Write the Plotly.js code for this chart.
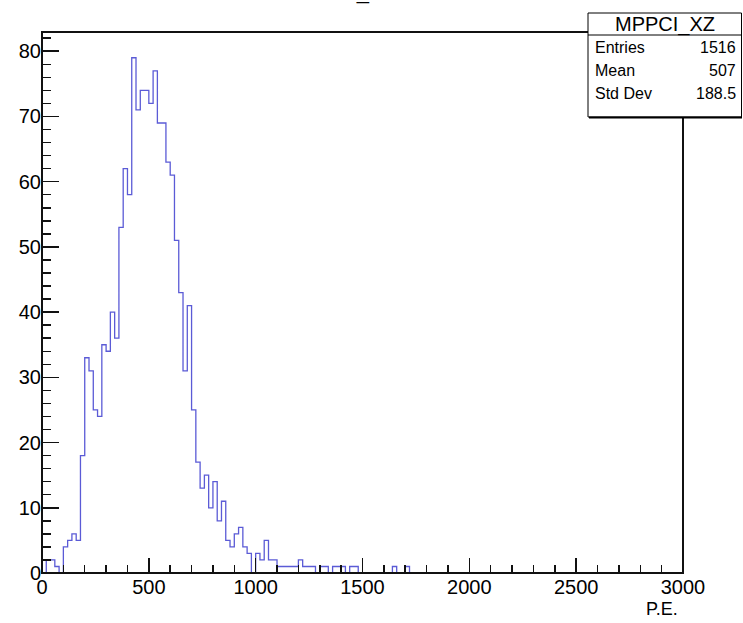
<!DOCTYPE html>
<html>
<head>
<meta charset="utf-8">
<script src="https://cdn.plot.ly/plotly-3.0.1.min.js"></script>
<style>
  html, body { margin: 0; padding: 0; background: #ffffff; }
  #chart { width: 743px; height: 623px; }
</style>
</head>
<body>
<div id="chart"></div>
<script>
// ---- data ----
const histName = "MPPCI_XZ";
const xAxisLabel = "P.E.";
const xMin = 0;
const xMax = 3000;
const binWidth = 20;
// counts per 20 P.E. bin, starting at 0
const counts = [
  0, 2, 2, 1, 0, 4, 5, 6, 5, 18,
  33, 31, 25, 24, 35, 34, 40, 36, 53, 62,
  58, 79, 71, 74, 74, 72, 77, 69, 69, 63,
  61, 51, 43, 31, 41, 25, 17, 13, 15, 10,
  14, 8, 11, 5, 4, 6, 7, 4, 3, 0,
  3, 2, 5, 2, 2, 1, 1, 1, 1, 1,
  2, 1, 1, 1, 0, 1, 1, 0, 1, 1,
  1, 0, 1, 1, 0, 0, 0, 0, 0, 0,
  0, 0, 1, 0, 0, 1, 0, 0, 0, 0,
  0, 0, 0, 0, 0, 0, 0, 0, 0, 0,
  0, 0, 0, 0, 0, 0, 0, 0, 0, 0,
  0, 0, 0, 0, 0, 0, 0, 0, 0, 0,
  0, 0, 0, 0, 0, 0, 0, 0, 0, 0,
  0, 0, 0, 0, 0, 0, 0, 0, 0, 0,
  0, 0, 0, 0, 0, 0, 0, 0, 0, 0
];
const statLabels = ["Entries", "Mean", "Std Dev"];
const statValues = ["1516", "507", "188.5"];
const yMax = 82.95;

// ---- build step outline from bin edges ----
const xs = [];
const ys = [];
for (let i = 0; i < counts.length; i++) {
  xs.push(xMin + i * binWidth);
  ys.push(counts[i]);
}
xs.push(xMin + counts.length * binWidth);
ys.push(counts[counts.length - 1]);

// ---- layout geometry (pixels) ----
const W = 743, H = 623;
const L = 42, R = 683, T = 32, B = 573;
const pw = R - L, ph = B - T;
const px = v => (v - L) / pw;
const py = v => (B - v) / ph;

const font = "Liberation Sans, Arial, Helvetica, sans-serif";

const trace = {
  type: "scatter",
  mode: "lines",
  x: xs,
  y: ys,
  line: { shape: "hv", color: "#5b5bd6", width: 1.3 },
  hoverinfo: "skip"
};

const annotations = [
  // partially cropped title at the very top
  { text: histName, xref: "paper", yref: "paper", x: px(285), y: py(6),
    xanchor: "left", yanchor: "bottom", showarrow: false,
    font: { family: font, size: 22, color: "#000" } },
  // stat box title
  { text: histName, xref: "paper", yref: "paper", x: px(665), y: py(24),
    xanchor: "center", yanchor: "middle", showarrow: false,
    font: { family: font, size: 20, color: "#000" } },
  // axis title
  { text: xAxisLabel, xref: "paper", yref: "paper", x: px(680), y: py(609),
    xanchor: "right", yanchor: "middle", showarrow: false,
    font: { family: font, size: 18, color: "#000" } }
];
const rowY = [47, 70, 93];
for (let i = 0; i < statLabels.length; i++) {
  annotations.push({ text: statLabels[i], xref: "paper", yref: "paper",
    x: px(593), y: py(rowY[i]), xanchor: "left", yanchor: "middle",
    showarrow: false, font: { family: font, size: 16, color: "#000" } });
  annotations.push({ text: statValues[i], xref: "paper", yref: "paper",
    x: px(738), y: py(rowY[i]), xanchor: "right", yanchor: "middle",
    showarrow: false, font: { family: font, size: 16, color: "#000" } });
}

const shapes = [
  // plot frame (drawn exactly on the plot-area border, over zero-count bins)
  { type: "rect", xref: "paper", yref: "paper", layer: "above",
    x0: 0, x1: 1, y0: 0, y1: 1,
    line: { color: "#111", width: 2 }, fillcolor: "rgba(0,0,0,0)" },
  // stat box
  { type: "rect", xref: "paper", yref: "paper", layer: "above",
    x0: px(588), x1: px(741.5), y0: py(117), y1: py(13),
    line: { color: "#000", width: 1 }, fillcolor: "#fff" },
  { type: "line", xref: "paper", yref: "paper", layer: "above",
    x0: px(588), x1: px(741.5), y0: py(35), y1: py(35),
    line: { color: "#000", width: 1 } },
  { type: "line", xref: "paper", yref: "paper", layer: "above",
    x0: px(589), x1: px(742), y0: py(117.5), y1: py(117.5),
    line: { color: "#000", width: 2 } }
];

const layout = {
  width: W, height: H,
  margin: { l: L, r: W - R, t: T, b: H - B, pad: 0 },
  paper_bgcolor: "#fff",
  plot_bgcolor: "#fff",
  showlegend: false,
  xaxis: {
    range: [xMin, xMax],
    dtick: 500, tick0: 0,
    ticks: "inside", ticklen: 15, tickwidth: 1.5, tickcolor: "#111",
    minor: { dtick: 100, ticks: "inside", ticklen: 8, tickwidth: 1.5, tickcolor: "#111", showgrid: false },
    showline: false,
    showgrid: false, zeroline: false,
    tickfont: { family: font, size: 20, color: "#000" },
    fixedrange: true
  },
  yaxis: {
    range: [0, yMax],
    dtick: 10, tick0: 0,
    ticks: "inside", ticklen: 17, tickwidth: 1.5, tickcolor: "#111",
    minor: { dtick: 2, ticks: "inside", ticklen: 9, tickwidth: 1.5, tickcolor: "#111", showgrid: false },
    showline: false,
    showgrid: false, zeroline: false,
    tickfont: { family: font, size: 20, color: "#000" },
    fixedrange: true
  },
  annotations: annotations,
  shapes: shapes
};

Plotly.newPlot("chart", [trace], layout, { displayModeBar: false, staticPlot: true });
</script>
</body>
</html>
